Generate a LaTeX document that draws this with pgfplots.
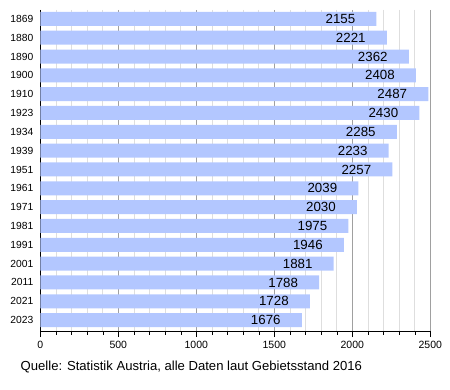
\documentclass[border=0pt]{standalone}
\usepackage{pgfplots}
\pgfplotsset{compat=1.18}
\usepackage{fontspec}
\setmainfont{Liberation Sans}
\definecolor{barblue}{HTML}{B3C7FF}
\definecolor{majgrid}{HTML}{A0A0A0}
\definecolor{mingrid}{HTML}{DEDEDE}
\begin{document}
\begin{tikzpicture}[x=1pt,y=1pt]
\useasboundingbox (0,0) rectangle (450,390);
\begin{axis}[
  at={(40.3pt,59pt)}, anchor=south west,
  scale only axis, width=390pt, height=321pt,
  xbar, bar width=14pt, bar shift=0pt,
  xmin=0, xmax=2500,
  ymin=-0.47, ymax=16.58, y dir=reverse,
  axis x line=bottom, axis y line=left,
  axis line style={black, -},
  xtick={0,500,...,2500},
  minor x tick num=4,
  tick align=outside,
  major tick length=6pt, minor tick length=4pt,
  xtick style={black},
  xmajorgrids, xminorgrids,
  major grid style={majgrid, line width=0.8pt},
  minor grid style={mingrid, line width=0.6pt},
  ytick={0,...,16},
  yticklabels={1869,1880,1890,1900,1910,1923,1934,1939,1951,1961,1971,1981,1991,2001,2011,2021,2023},
  ytick style={draw=none},
  y tick label style={font=\fontsize{10.3}{12}\selectfont, xshift=2.5pt},
  x tick label style={font=\fontsize{10.5}{12}\selectfont, yshift=-0.5pt},
  /pgf/number format/assume math mode=true,
  xticklabel={\pgfmathprintnumber[fixed,1000 sep={}]{\tick}},
  nodes near coords,
  every node near coord/.append style={anchor=center, xshift=-36pt, font=\fontsize{13.3}{15}\selectfont, text=black},
  nodes near coords={\pgfmathprintnumber[fixed,1000 sep={}]{\pgfplotspointmeta}},
  point meta=x,
]
\addplot[fill=barblue, draw=none] coordinates {
(2155,0) (2221,1) (2362,2) (2408,3) (2487,4) (2430,5) (2285,6) (2233,7) (2257,8)
(2039,9) (2030,10) (1975,11) (1946,12) (1881,13) (1788,14) (1728,15) (1676,16)
};
\end{axis}
\node[anchor=base west, inner sep=0pt, font=\fontsize{13.1}{15}\selectfont] at (20.5,19) {Quelle: Statistik Austria, alle Daten laut Gebietsstand 2016};
\end{tikzpicture}
\end{document}
